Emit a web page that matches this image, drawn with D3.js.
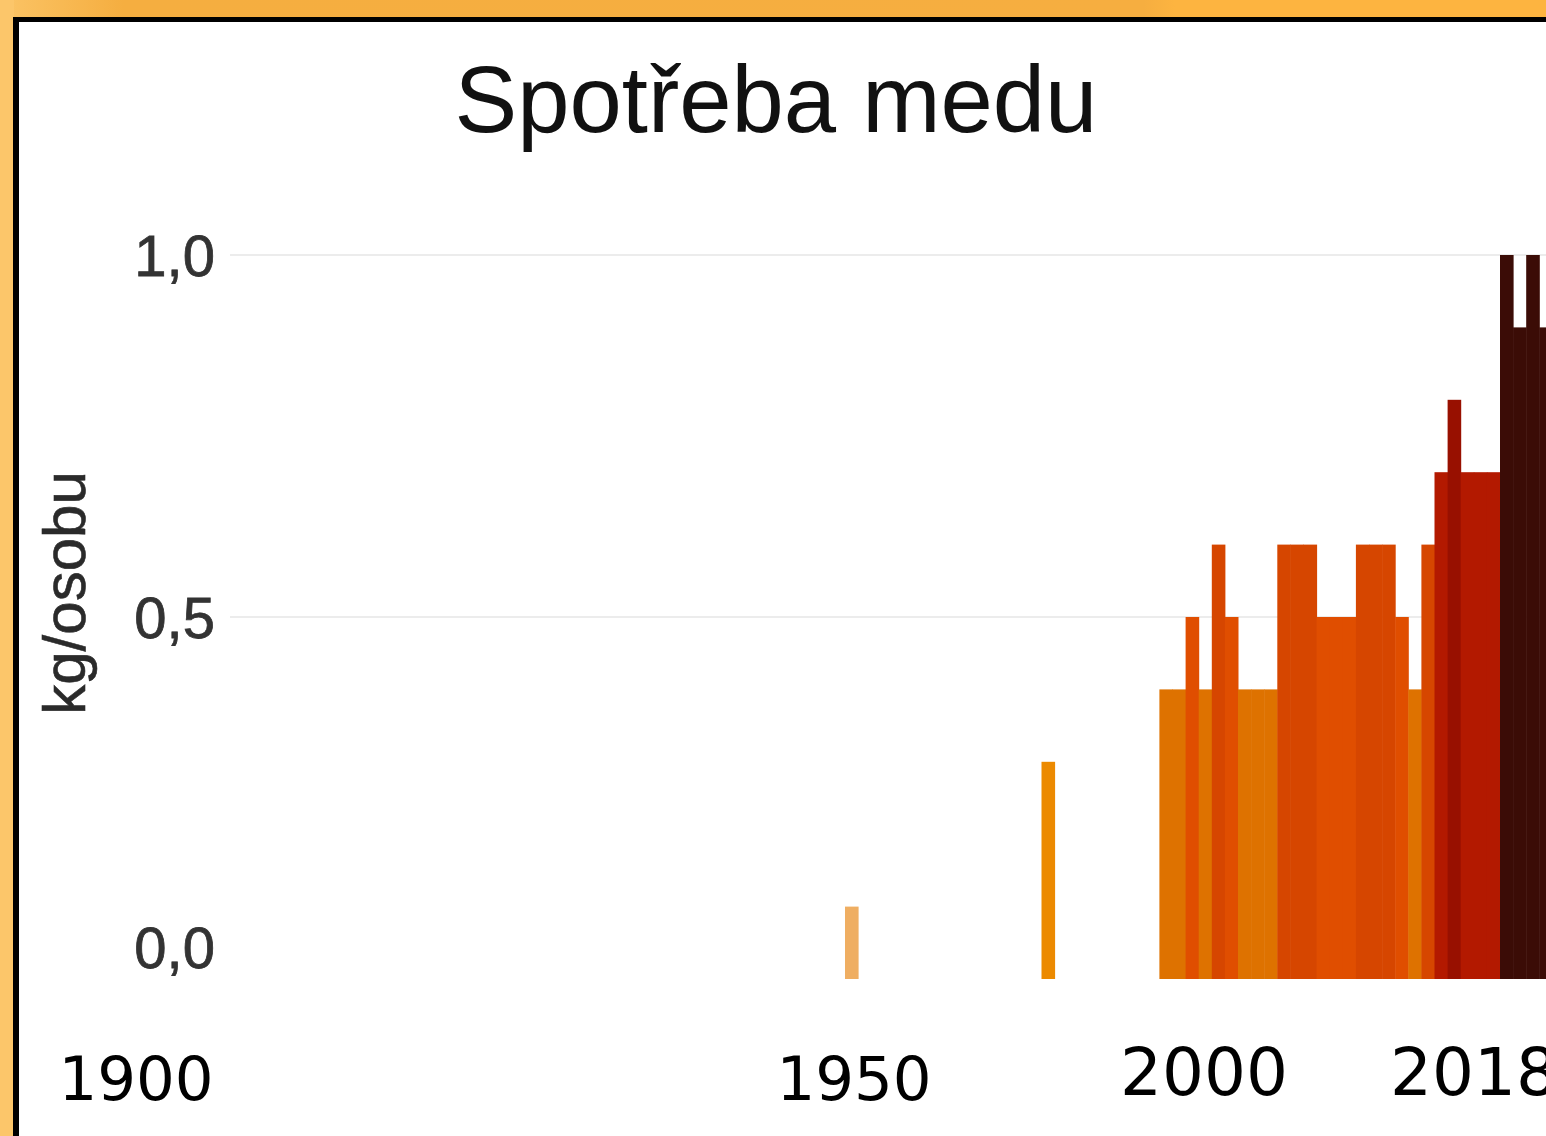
<!DOCTYPE html>
<html>
<head>
<meta charset="utf-8">
<script src="https://cdn.jsdelivr.net/npm/d3@7"></script>
<style>
  body { margin: 0; background: #fff; }
  svg { display: block; }
</style>
</head>
<body>
<div id="chart"></div>
<script>
// data
var years = [1965, 1980,
  1989, 1990, 1991, 1992, 1993, 1994, 1995, 1996, 1997, 1998, 1999, 2000,
  2001, 2002, 2003, 2004, 2005, 2006, 2007, 2008, 2009, 2010, 2011, 2012,
  2013, 2014, 2015, 2016, 2017, 2018];
var values = [0.1, 0.3,
  0.4, 0.4, 0.5, 0.4, 0.6, 0.5, 0.4, 0.4, 0.4, 0.6, 0.6, 0.6,
  0.5, 0.5, 0.5, 0.6, 0.6, 0.6, 0.5, 0.4, 0.6, 0.7, 0.8, 0.7,
  0.7, 0.7, 1.0, 0.9, 1.0, 0.9];
var yTicks = [0, 0.5, 1];
var xLabels = ["1900", "1950", "2000", "2018"];

var svgWidth = 1546;
var svgHeight = 1136;

var svg = d3.select("#chart")
  .append("svg")
  .attr("width", svgWidth)
  .attr("height", svgHeight);

// orange frame + black border of the screenshot
var defs = svg.append("defs");
var grad = defs.append("linearGradient").attr("id", "topGrad");
grad.append("stop").attr("offset", "0%").attr("stop-color", "#fbc466");
grad.append("stop").attr("offset", "8%").attr("stop-color", "#f5ae40");
grad.append("stop").attr("offset", "74%").attr("stop-color", "#f6ae40");
grad.append("stop").attr("offset", "76%").attr("stop-color", "#fdb440");
grad.append("stop").attr("offset", "100%").attr("stop-color", "#fdb440");

svg.append("rect").attr("x", 0).attr("y", 0).attr("width", svgWidth).attr("height", 18)
  .attr("fill", "url(#topGrad)");
svg.append("rect").attr("x", 0).attr("y", 0).attr("width", 14).attr("height", svgHeight)
  .attr("fill", "#fcc66a");
svg.append("rect").attr("x", 13).attr("y", 17).attr("width", svgWidth).attr("height", 5)
  .attr("fill", "#000");
svg.append("rect").attr("x", 13).attr("y", 17).attr("width", 6).attr("height", svgHeight)
  .attr("fill", "#000");

// scales
var x = d3.scaleLinear()
  .domain([1965, 2019])
  .range([845, 845 + 54 * 13.1]);

var y = d3.scaleLinear()
  .domain([0, 1])
  .range([979, 255]);

var color = d3.scaleThreshold()
  .domain([0.2, 0.35, 0.45, 0.55, 0.65, 0.75, 0.85])
  .range(["#efae62", "#ec8a00", "#de7200", "#e04e00", "#d64600", "#b31900", "#981000", "#3b0c06"]);

// gridlines
svg.append("g")
  .selectAll("line")
  .data(yTicks.filter(d => d > 0))
  .enter()
  .append("line")
  .attr("x1", 230)
  .attr("x2", svgWidth)
  .attr("y1", d => y(d))
  .attr("y2", d => y(d))
  .attr("stroke", "#ececec")
  .attr("stroke-width", 2);

// bars
var rows = years.map((d, i) => ({ year: d, value: values[i] }));

svg.append("g")
  .selectAll("rect")
  .data(rows)
  .enter()
  .append("rect")
  .attr("x", d => x(d.year))
  .attr("width", d => x(d.year + 1) - x(d.year) + 0.5)
  .attr("y", d => y(d.value))
  .attr("height", d => y(0) - y(d.value))
  .attr("fill", d => color(d.value));

// y axis labels
var leftAxis = d3.axisLeft(y)
  .tickValues(yTicks)
  .tickFormat(d => d3.format(".1f")(d).replace(".", ","))
  .tickSize(0)
  .tickPadding(0);

var yAxis = svg.append("g")
  .attr("transform", "translate(215,0)")
  .call(leftAxis);
yAxis.select(".domain").remove();
yAxis.selectAll("text")
  .attr("font-family", "Liberation Sans, Arial, sans-serif")
  .attr("font-size", 58)
  .attr("fill", "#333")
  .attr("stroke", "#333")
  .attr("stroke-width", 0.8)
  .attr("dy", "0.36em");
// the 0,0 label sits above the bar baseline in the picture
yAxis.selectAll(".tick")
  .filter(d => d === 0)
  .select("text")
  .attr("y", -32);

svg.append("text")
  .attr("transform", "translate(85,593) rotate(-90)")
  .attr("text-anchor", "middle")
  .attr("font-family", "Liberation Sans, Arial, sans-serif")
  .attr("font-size", 60)
  .attr("fill", "#2a2a2a")
  .attr("stroke", "#2a2a2a")
  .attr("stroke-width", 0.6)
  .text("kg/osobu");

// title
svg.append("text")
  .attr("x", 776)
  .attr("y", 132)
  .attr("text-anchor", "middle")
  .attr("font-family", "Liberation Sans, Arial, sans-serif")
  .attr("font-size", 94)
  .attr("fill", "#111")
  .text("Spotřeba medu");

// year labels pasted under the chart
var labelPos = [
  { x: 136, y: 1100, size: 61 },
  { x: 854, y: 1100, size: 61 },
  { x: 1204, y: 1095, size: 66 },
  { x: 1474, y: 1095, size: 66 }
];

svg.append("g")
  .selectAll("text")
  .data(xLabels)
  .enter()
  .append("text")
  .attr("x", (d, i) => labelPos[i].x)
  .attr("y", (d, i) => labelPos[i].y)
  .attr("text-anchor", "middle")
  .attr("font-family", "DejaVu Sans, Verdana, sans-serif")
  .attr("font-size", (d, i) => labelPos[i].size)
  .attr("fill", "#000")
  .text(d => d);
</script>
</body>
</html>
